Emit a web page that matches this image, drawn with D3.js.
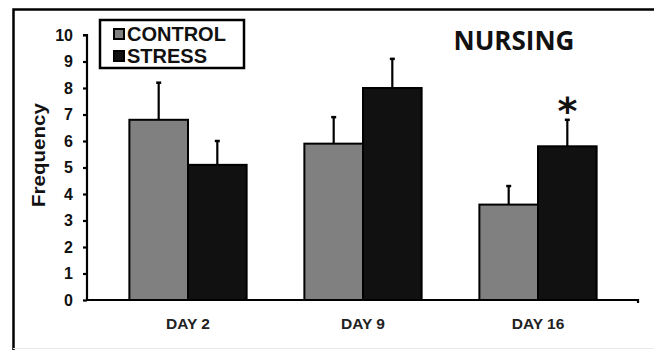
<!DOCTYPE html>
<html>
<head>
<meta charset="utf-8">
<script src="https://cdn.jsdelivr.net/npm/d3@7"></script>
<style>
  html, body { margin: 0; padding: 0; background: #fff; }
  svg { display: block; }
</style>
</head>
<body>
<svg id="chart" width="654" height="350"></svg>
<script>
// Nursing frequency by day, control vs. stress (mean + SEM)
const days = ["DAY 2", "DAY 9", "DAY 16"];
const groups = ["CONTROL", "STRESS"];
const controlValues = [6.8, 5.9, 3.6];
const controlErrors = [1.4, 1.0, 0.7];
const stressValues = [5.1, 8.0, 5.8];
const stressErrors = [0.9, 1.1, 1.0];
const stressSignificant = [false, false, true];
const yTicks = [0, 1, 2, 3, 4, 5, 6, 7, 8, 9, 10];
const groupColors = ["#808080", "#111111"];

const rows = days.map((d, i) => ({
  day: d,
  bars: [
    { group: groups[0], value: controlValues[i], err: controlErrors[i], sig: false },
    { group: groups[1], value: stressValues[i], err: stressErrors[i], sig: stressSignificant[i] }
  ]
}));

const svg = d3.select("#chart");

// outer frame (left and top edges)
svg.append("path")
  .attr("d", "M13.5,350 V9.5 H654")
  .attr("fill", "none").attr("stroke", "#000").attr("stroke-width", 2.5);
svg.append("line")
  .attr("x1", 13).attr("x2", 654).attr("y1", 348.5).attr("y2", 348.5)
  .attr("stroke", "#eaeaea").attr("stroke-width", 1);

const y = d3.scaleLinear().domain([0, 10]).range([300, 35]);
const x = d3.scaleBand().domain(days).range([100.5, 625.5])
  .paddingInner(0.33).paddingOuter(0.165);
const xs = d3.scaleBand().domain(groups).range([0, x.bandwidth()]);
const color = d3.scaleOrdinal().domain(groups).range(groupColors);

// y axis
const yAxis = svg.append("g").attr("transform", "translate(87,0)")
  .call(d3.axisLeft(y).tickValues(yTicks).tickSize(4).tickPadding(10));
yAxis.select(".domain").attr("stroke-width", 2.2).attr("d", "M-4," + y(10) + "H0V" + y(0));
yAxis.selectAll(".tick line").attr("stroke-width", 2.2);
yAxis.selectAll(".tick text")
  .attr("font-family", "Liberation Sans, Arial, sans-serif")
  .attr("font-weight", "bold").attr("font-size", 16).attr("fill", "#111");

// bars
const g = svg.append("g").selectAll("g").data(rows).join("g")
  .attr("transform", d => `translate(${x(d.day)},0)`);

g.selectAll("rect").data(d => d.bars).join("rect")
  .attr("x", d => xs(d.group))
  .attr("y", d => y(d.value))
  .attr("width", xs.bandwidth())
  .attr("height", d => y(0) - y(d.value))
  .attr("fill", d => color(d.group))
  .attr("stroke", "#000").attr("stroke-width", 2);

// error bars (upper half)
const eb = g.selectAll("g.err").data(d => d.bars).join("g").attr("class", "err");
eb.append("line")
  .attr("x1", d => xs(d.group) + xs.bandwidth() / 2)
  .attr("x2", d => xs(d.group) + xs.bandwidth() / 2)
  .attr("y1", d => y(d.value))
  .attr("y2", d => y(d.value + d.err))
  .attr("stroke", "#000").attr("stroke-width", 2.2);
eb.append("line")
  .attr("x1", d => xs(d.group) + xs.bandwidth() / 2 - 2.5)
  .attr("x2", d => xs(d.group) + xs.bandwidth() / 2 + 2.5)
  .attr("y1", d => y(d.value + d.err))
  .attr("y2", d => y(d.value + d.err))
  .attr("stroke", "#000").attr("stroke-width", 2.5);

// significance marker
g.selectAll("text.sig").data(d => d.bars.filter(b => b.sig)).join("text")
  .attr("class", "sig")
  .attr("x", d => xs(d.group) + xs.bandwidth() / 2)
  .attr("y", d => y(d.value + d.err) + 4)
  .attr("text-anchor", "middle")
  .attr("font-family", "DejaVu Sans, sans-serif")
  .attr("font-weight", "bold").attr("font-size", 38)
  .attr("fill", "#111")
  .text("*");

// x axis
svg.append("path")
  .attr("d", `M87,${y(0)} H638 v3`)
  .attr("fill", "none").attr("stroke", "#000").attr("stroke-width", 2.2);
svg.append("g").selectAll("text").data(days).join("text")
  .attr("x", d => x(d) + x.bandwidth() / 2)
  .attr("y", 329)
  .attr("text-anchor", "middle")
  .attr("font-family", "Liberation Sans, Arial, sans-serif")
  .attr("font-weight", "bold").attr("font-size", 15.5).attr("fill", "#222")
  .text(d => d);

// y axis title
svg.append("text")
  .attr("transform", "translate(45,155) rotate(-90)")
  .attr("text-anchor", "middle")
  .attr("font-family", "Liberation Sans, Arial, sans-serif")
  .attr("font-weight", "bold").attr("font-size", 19).attr("fill", "#111")
  .attr("textLength", 104).attr("lengthAdjust", "spacingAndGlyphs")
  .text("Frequency");

// title
svg.append("text")
  .attr("x", 514).attr("y", 50)
  .attr("text-anchor", "middle")
  .attr("font-family", "Open Sans, sans-serif")
  .attr("font-weight", "bold").attr("font-size", 26).attr("fill", "#111")
  .text("NURSING");

// legend
const legend = svg.append("g");
legend.append("rect")
  .attr("x", 100).attr("y", 20).attr("width", 144).attr("height", 48)
  .attr("fill", "#fff").attr("stroke", "#000").attr("stroke-width", 2.5);
const li = legend.selectAll("g").data(groups).join("g")
  .attr("transform", (d, i) => `translate(114,${29 + i * 22})`);
li.append("rect")
  .attr("width", 10).attr("height", 10)
  .attr("fill", d => color(d)).attr("stroke", "#000").attr("stroke-width", 2);
li.append("text")
  .attr("x", 13).attr("y", 12)
  .attr("font-family", "Liberation Sans, Arial, sans-serif")
  .attr("font-weight", "bold").attr("font-size", 20).attr("fill", "#111")
  .text(d => d);
</script>
</body>
</html>
